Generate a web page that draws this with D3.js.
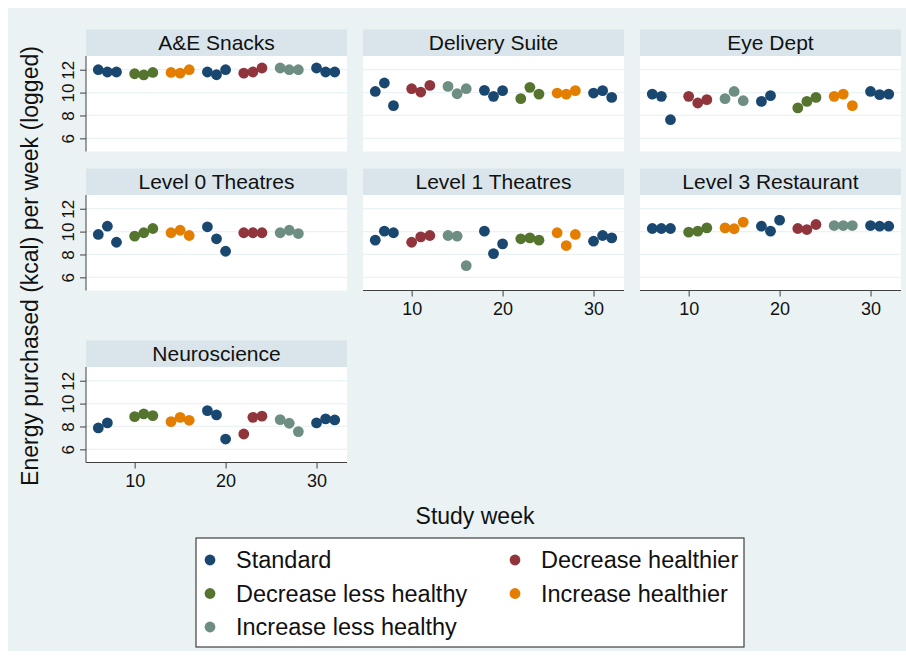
<!DOCTYPE html>
<html>
<head>
<meta charset="utf-8">
<script src="https://cdn.jsdelivr.net/npm/d3@7"></script>
<style>
  body { margin: 0; background: #fff; }
  text { font-family: "Liberation Sans", Arial, sans-serif; }
</style>
</head>
<body>
<div id="chart"></div>
<script>
// weeks on the x axis, three weeks per block, one gap week between blocks
const weeks = [6, 7, 8, 10, 11, 12, 14, 15, 16, 18, 19, 20, 22, 23, 24, 26, 27, 28, 30, 31, 32];

const conditions = ["Standard", "Decrease healthier", "Decrease less healthy", "Increase healthier", "Increase less healthy"];
const conditionColors = ["#1a476f", "#90353b", "#55752f", "#e37e00", "#6e8e84"];

const panelNames = ["A&E Snacks", "Delivery Suite", "Eye Dept", "Level 0 Theatres", "Level 1 Theatres", "Level 3 Restaurant", "Neuroscience"];

// condition of each 3-week block, per site
const aeSnacksBlocks = ["Standard", "Decrease less healthy", "Increase healthier", "Standard", "Decrease healthier", "Increase less healthy", "Standard"];
const deliveryBlocks = ["Standard", "Decrease healthier", "Increase less healthy", "Standard", "Decrease less healthy", "Increase healthier", "Standard"];
const eyeBlocks = ["Standard", "Decrease healthier", "Increase less healthy", "Standard", "Decrease less healthy", "Increase healthier", "Standard"];
const level0Blocks = ["Standard", "Decrease less healthy", "Increase healthier", "Standard", "Decrease healthier", "Increase less healthy", "Standard"];
const level1Blocks = ["Standard", "Decrease healthier", "Increase less healthy", "Standard", "Decrease less healthy", "Increase healthier", "Standard"];
const level3Blocks = ["Standard", "Decrease less healthy", "Increase healthier", "Standard", "Decrease healthier", "Increase less healthy", "Standard"];
const neuroBlocks = ["Standard", "Decrease less healthy", "Increase healthier", "Standard", "Decrease healthier", "Increase less healthy", "Standard"];

// logged kcal per week (null = no data that week)
const aeSnacksKcal = [12.0, 11.8, 11.8, 11.65, 11.55, 11.76, 11.76, 11.7, 12.0, 11.8, 11.56, 12.0, 11.7, 11.8, 12.15, 12.15, 12.0, 12.0, 12.15, 11.8, 11.8];
const deliveryKcal = [10.1, 10.84, 8.86, 10.34, 10.05, 10.63, 10.54, 9.9, 10.34, 10.2, 9.67, 10.17, 9.47, 10.46, 9.87, 9.96, 9.87, 10.17, 9.96, 10.17, 9.58];
const eyeKcal = [9.87, 9.67, 7.63, 9.67, 9.09, 9.38, 9.47, 10.1, 9.29, 9.23, 9.73, null, 8.66, 9.23, 9.58, 9.67, 9.87, 8.86, 10.1, 9.82, 9.87];
const level0Kcal = [9.75, 10.47, 9.07, 9.6, 9.9, 10.27, 9.9, 10.12, 9.66, 10.42, 9.37, 8.28, 9.9, 9.9, 9.9, 9.9, 10.12, 9.83, null, null, null];
const level1Kcal = [9.25, 10.04, 9.9, 9.07, 9.54, 9.66, 9.66, 9.6, 7.03, 10.04, 8.08, 8.93, 9.37, 9.45, 9.25, 9.9, 8.78, 9.75, 9.16, 9.66, 9.45];
const level3Kcal = [10.27, 10.27, 10.27, 9.95, 10.04, 10.33, 10.33, 10.25, 10.83, 10.47, 10.04, 11.0, 10.27, 10.18, 10.62, 10.53, 10.53, 10.53, 10.53, 10.47, 10.47];
const neuroKcal = [7.87, 8.31, null, 8.86, 9.1, 8.95, 8.42, 8.8, 8.54, 9.39, 9.01, 6.9, 7.34, 8.8, 8.9, 8.6, 8.28, 7.55, 8.31, 8.66, 8.57];

const yTicks = [6, 8, 10, 12];
const xTicks = [10, 20, 30];

const panelBlocks = [aeSnacksBlocks, deliveryBlocks, eyeBlocks, level0Blocks, level1Blocks, level3Blocks, neuroBlocks];
const panelKcal = [aeSnacksKcal, deliveryKcal, eyeKcal, level0Kcal, level1Kcal, level3Kcal, neuroKcal];

// layout
const W = 906, H = 658;
const colX = [86, 363, 640];
const rowTop = [29.5, 168.5, 340.5];
const panelW = 261, stripH = 26.5, plotH = 95.5;

const svg = d3.select("#chart").append("svg").attr("width", W).attr("height", H);

svg.append("rect").attr("x", 8).attr("y", 8).attr("width", W - 8).attr("height", 643)
  .attr("fill", "#eaf2f3");

const x = d3.scaleLinear().domain([4.65, 33.35]).range([0, panelW]);
const y = d3.scaleLinear().domain([4.85, 13.2]).range([plotH, 0]);
const color = d3.scaleOrdinal().domain(conditions).range(conditionColors);

panelNames.forEach(function(name, i) {
  let col = i % 3, row = Math.floor(i / 3);
  let g = svg.append("g").attr("transform", "translate(" + colX[col] + "," + rowTop[row] + ")");

  g.append("rect").attr("width", panelW).attr("height", stripH).attr("fill", "#d9e5ea");
  g.append("text").attr("x", panelW / 2).attr("y", stripH / 2 + 7)
    .attr("text-anchor", "middle").style("font-size", "21px").attr("fill", "#111")
    .text(name);

  let p = g.append("g").attr("transform", "translate(0," + stripH + ")");
  p.append("rect").attr("width", panelW).attr("height", plotH).attr("fill", "#fff");

  p.selectAll(".grid").data(yTicks).enter().append("line")
    .attr("x1", 0).attr("x2", panelW)
    .attr("y1", d => y(d)).attr("y2", d => y(d))
    .attr("stroke", "#eaf2f3").attr("stroke-width", 1.2);

  // y axis on the first column only
  if (col == 0) {
    let ya = p.append("g").call(d3.axisLeft(y).tickValues(yTicks).tickSize(6).tickPadding(4));
    ya.select(".domain").attr("stroke", "#404040").attr("d", "M0,0V" + plotH);
    ya.selectAll(".tick line").attr("stroke", "#404040");
    ya.selectAll(".tick text")
      .attr("x", null).attr("dy", null)
      .attr("transform", "translate(-12,0) rotate(-90)")
      .attr("text-anchor", "middle")
      .style("font-size", "17px").attr("fill", "#111");
  }

  // x axis on the bottom panel of each column
  if (i >= 4) {
    let xa = p.append("g").attr("transform", "translate(0," + plotH + ")")
      .call(d3.axisBottom(x).tickValues(xTicks).tickSize(6).tickPadding(6));
    xa.select(".domain").attr("stroke", "#404040").attr("d", "M0,0H" + panelW);
    xa.selectAll(".tick line").attr("stroke", "#404040");
    xa.selectAll(".tick text").style("font-size", "18px").attr("fill", "#111");
  }

  let pts = [];
  panelKcal[i].forEach(function(v, k) {
    if (v != null) pts.push({ week: weeks[k], kcal: v, cond: panelBlocks[i][Math.floor(k / 3)] });
  });

  p.selectAll("circle").data(pts).enter().append("circle")
    .attr("cx", d => x(d.week)).attr("cy", d => y(d.kcal)).attr("r", 5.4)
    .attr("fill", d => color(d.cond));
});

// axis titles
svg.append("text").attr("x", 475).attr("y", 524).attr("text-anchor", "middle")
  .style("font-size", "23px").attr("fill", "#111").text("Study week");
svg.append("text").attr("transform", "translate(38,266) rotate(-90)").attr("text-anchor", "middle")
  .style("font-size", "23px").attr("fill", "#111").text("Energy purchased (kcal) per week (logged)");

// legend
const legendOrder = ["Standard", "Decrease healthier", "Decrease less healthy", "Increase healthier", "Increase less healthy"];
const leg = svg.append("g").attr("transform", "translate(196,538)");
leg.append("rect").attr("width", 548).attr("height", 109).attr("fill", "#fff")
  .attr("stroke", "#404040").attr("stroke-width", 1.2);
legendOrder.forEach(function(c, k) {
  let lx = (k % 2) * 305, ly = 22 + Math.floor(k / 2) * 33.5;
  leg.append("circle").attr("cx", lx + 14).attr("cy", ly).attr("r", 5.4).attr("fill", color(c));
  leg.append("text").attr("x", lx + 40).attr("y", ly + 8).style("font-size", "23.5px")
    .attr("fill", "#111").text(c);
});
</script>
</body>
</html>
